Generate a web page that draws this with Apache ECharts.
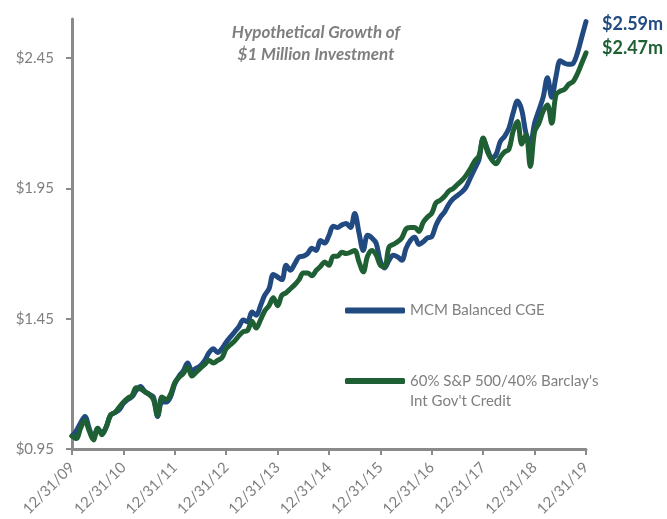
<!DOCTYPE html>
<html>
<head>
<meta charset="utf-8">
<script src="https://cdn.jsdelivr.net/npm/echarts@6/dist/echarts.min.js"></script>
<style>html,body{margin:0;padding:0;background:#fff}#c{width:667px;height:519px}</style>
</head>
<body>
<div id="c"></div>
<script>
// Month-end values of a $1 million investment (in $ millions), 12/31/09 .. 12/31/19
const mcmValues = [
  1.00,1.02,1.05,1.075,1.03,0.99,1.03,1.01,1.035,1.08,1.09,1.10,
  1.125,1.14,1.15,1.175,1.19,1.17,1.16,1.15,1.075,1.13,1.13,1.15,
  1.20,1.23,1.25,1.28,1.25,1.26,1.27,1.29,1.32,1.335,1.32,1.335,
  1.36,1.38,1.40,1.42,1.445,1.438,1.476,1.463,1.50,1.54,1.565,1.62,
  1.61,1.60,1.655,1.636,1.66,1.687,1.69,1.70,1.72,1.712,1.75,1.74,
  1.77,1.805,1.80,1.81,1.815,1.80,1.854,1.78,1.712,1.77,1.76,1.74,
  1.67,1.645,1.674,1.693,1.687,1.674,1.72,1.75,1.763,1.735,1.745,1.76,
  1.765,1.81,1.84,1.86,1.89,1.91,1.923,1.936,1.955,1.99,2.025,2.06,
  2.14,2.10,2.066,2.08,2.13,2.15,2.18,2.24,2.285,2.25,2.16,2.125,
  2.20,2.25,2.30,2.375,2.30,2.38,2.44,2.43,2.426,2.43,2.47,2.53,
  2.59
];
const benchValues = [
  1.00,0.99,1.03,1.06,1.02,0.985,1.03,1.005,1.035,1.08,1.09,1.11,
  1.13,1.145,1.155,1.185,1.18,1.17,1.16,1.14,1.08,1.15,1.14,1.16,
  1.205,1.225,1.24,1.265,1.23,1.245,1.26,1.275,1.29,1.28,1.29,1.30,
  1.335,1.35,1.365,1.385,1.40,1.405,1.44,1.414,1.445,1.48,1.50,1.53,
  1.50,1.54,1.55,1.565,1.58,1.60,1.625,1.625,1.615,1.635,1.65,1.668,
  1.655,1.69,1.69,1.705,1.70,1.705,1.712,1.668,1.63,1.69,1.712,1.695,
  1.655,1.65,1.725,1.735,1.745,1.76,1.795,1.80,1.80,1.785,1.82,1.84,
  1.855,1.895,1.905,1.92,1.94,1.95,1.965,1.98,2.00,2.025,2.055,2.075,
  2.143,2.09,2.06,2.045,2.07,2.09,2.10,2.17,2.207,2.12,2.157,2.034,
  2.168,2.20,2.246,2.27,2.20,2.31,2.323,2.33,2.35,2.36,2.39,2.43,
  2.47
];
const seriesNames = ['MCM Balanced CGE', "60% S&P 500/40% Barclay's\nInt Gov't Credit"];
const yTickValues = [0.95, 1.45, 1.95, 2.45];
const yearLabels = ['12/31/09','12/31/10','12/31/11','12/31/12','12/31/13','12/31/14','12/31/15','12/31/16','12/31/17','12/31/18','12/31/19'];

// monthly category axis: month-end dates between the year-end labels
const categories = [];
for (let y = 0; y < yearLabels.length; y++) {
  if (y === 0) { categories.push(yearLabels[0]); continue; }
  const yy = String(9 + y).padStart(2, '0');
  const ends = [31,28,31,30,31,30,31,31,30,31,30];
  for (let m = 1; m <= 11; m++) categories.push(m + '/' + ends[m-1] + '/' + yy);
  categories.push(yearLabels[y]);
}

const BLUE = '#214a80';
const GREEN = '#1f5f34';
const GRAY = '#7f7f7f';
const AXIS = '#8a8a8a';
const FONT = 'Lato';

const chart = echarts.init(document.getElementById('c'), null, {renderer: 'canvas'});
chart.setOption({
  animation: false,
  backgroundColor: '#ffffff',
  title: {
    text: 'Hypothetical Growth of\n$1 Million Investment',
    left: 311, top: 17, textAlign: 'center',
    textStyle: {fontFamily: FONT, fontStyle: 'italic', fontWeight: 'bold', fontSize: 17, color: GRAY, lineHeight: 22}
  },
  grid: {left: 72, right: 81, top: 19, bottom: 70},
  legend: [{
    data: [seriesNames[0]], left: 340, top: 298, orient: 'vertical',
    itemWidth: 60, itemHeight: 6, icon: 'roundRect', itemGap: 0,
    textStyle: {fontFamily: FONT, fontSize: 15, color: GRAY}
  }, {
    data: [seriesNames[1]], left: 340, top: 346, orient: 'vertical',
    itemWidth: 60, itemHeight: 6, icon: 'roundRect',
    formatter: name => ' \n' + name,
    textStyle: {fontFamily: FONT, fontSize: 15, color: GRAY, lineHeight: 20}
  }],
  xAxis: {
    type: 'category', data: categories, boundaryGap: false,
    axisLine: {lineStyle: {color: AXIS, width: 3}},
    axisTick: {interval: 11, length: 6, lineStyle: {color: AXIS, width: 2}},
    axisLabel: {interval: 11, rotate: 45, margin: 16, fontFamily: FONT, fontSize: 15, color: GRAY},
    splitLine: {show: false}
  },
  yAxis: {
    type: 'value', min: 0.95, max: 2.6,
    axisLine: {show: true, lineStyle: {color: AXIS, width: 3}},
    axisTick: {show: true, customValues: yTickValues, length: 6, lineStyle: {color: AXIS, width: 2}},
    axisLabel: {customValues: yTickValues, margin: 18, fontFamily: FONT, fontSize: 15, color: GRAY,
      formatter: v => '$' + v.toFixed(2)},
    splitLine: {show: false}
  },
  series: [{
    name: seriesNames[0], type: 'line', data: mcmValues, showSymbol: false, smooth: 0.35,
    color: BLUE,
    lineStyle: {width: 5, color: BLUE, cap: 'round', join: 'round'},
    endLabel: {show: true, distance: 16, offset: [0, 3], formatter: p => '$' + p.value.toFixed(2) + 'm',
      fontFamily: FONT, fontWeight: 'bold', fontSize: 18, color: BLUE}
  }, {
    name: seriesNames[1], type: 'line', data: benchValues, showSymbol: false, smooth: 0.35,
    color: GREEN,
    lineStyle: {width: 5, color: GREEN, cap: 'round', join: 'round'},
    endLabel: {show: true, distance: 16, offset: [0, -5], formatter: p => '$' + p.value.toFixed(2) + 'm',
      fontFamily: FONT, fontWeight: 'bold', fontSize: 18, color: GREEN}
  }]
});
</script>
</body>
</html>
